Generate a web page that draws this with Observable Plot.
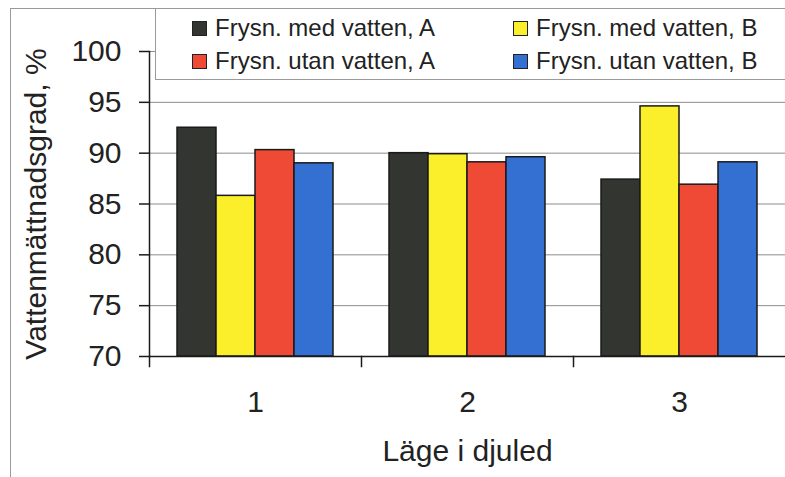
<!DOCTYPE html>
<html>
<head>
<meta charset="utf-8">
<script src="https://cdn.jsdelivr.net/npm/d3@7"></script>
<script src="https://cdn.jsdelivr.net/npm/@observablehq/plot@0.6"></script>
<style>
  html, body { margin: 0; padding: 0; background: #fff; }
  #wrap { position: relative; width: 785px; height: 477px; overflow: hidden; font-family: "Liberation Sans", Arial, sans-serif; }
  #border { position: absolute; left: 10px; top: 8px; width: 800px; height: 500px; border-left: 1px solid #9a9a9a; border-top: 1px solid #9a9a9a; pointer-events: none; }
  #legend { position: absolute; left: 155px; top: 8px; width: 660px; height: 72px; background: #fff; border: 1px solid #9a9a9a; box-sizing: border-box; }
  .item { position: absolute; display: flex; align-items: center; font-size: 24px; color: #222; white-space: nowrap; }
  .sw { width: 13px; height: 13px; border: 1.5px solid #222; margin-right: 8px; }
</style>
</head>
<body>
<div id="wrap">
  <div id="chart"></div>
  <div id="border"></div>
  <div id="legend"></div>
</div>
<script>
const categories = ["1", "2", "3"];
const series = ["Frysn. med vatten, A", "Frysn. med vatten, B", "Frysn. utan vatten, A", "Frysn. utan vatten, B"];
const colors = ["#333530", "#fbef2c", "#ee4a36", "#3470d2"];
const medVattenA = [92.5, 90.0, 87.4];
const medVattenB = [85.8, 89.9, 94.6];
const utanVattenA = [90.3, 89.1, 86.9];
const utanVattenB = [89.0, 89.6, 89.1];
const yTicks = [70, 75, 80, 85, 90, 95, 100];
const xTitle = "Läge i djuled";
const yTitle = "Vattenmättnadsgrad, %";

const valuesBySeries = [medVattenA, medVattenB, utanVattenA, utanVattenB];
const data = [];
categories.forEach((c, i) => {
  series.forEach((s, j) => data.push({cat: c, series: s, value: valuesBySeries[j][i]}));
});

const H = 477, mTop = 51, mBottom = 121;
const frameH = H - mTop - mBottom;

const chart = Plot.plot({
  width: 785,
  height: H,
  marginLeft: 148,
  marginRight: 0,
  marginTop: mTop,
  marginBottom: mBottom,
  style: {fontFamily: "'Liberation Sans', Arial, sans-serif", color: "#222", background: "transparent"},
  fx: {domain: categories, padding: 0},
  x: {domain: series, paddingInner: 0, paddingOuter: 0.71, axis: null},
  y: {domain: [70, 100]},
  color: {domain: series, range: colors},
  marks: [
    Plot.gridY(yTicks, {stroke: "#8c8c8c", strokeOpacity: 1, strokeWidth: 1}),
    Plot.barY(data, {fx: "cat", x: "series", y1: 70, y2: "value", fill: "series", stroke: "#1a1a1a", strokeWidth: 1.5}),
    Plot.ruleY([70], {stroke: "#1a1a1a", strokeWidth: 1.5}),
    Plot.frame({anchor: "left", facetAnchor: "left", stroke: "#1a1a1a", strokeWidth: 1.5}),
    Plot.frame({anchor: "left", insetTop: frameH, insetBottom: -10, stroke: "#1a1a1a", strokeWidth: 1.5}),
    Plot.axisY(yTicks, {anchor: "left", tickSize: 10, tickPadding: 18, fontSize: 30, strokeWidth: 1.5, stroke: "#1a1a1a",
      label: yTitle, labelAnchor: "center", labelOffset: 125, labelArrow: "none"}),
    Plot.axisFx({anchor: "bottom", tickSize: 0, tickPadding: 34, fontSize: 30,
      label: xTitle, labelAnchor: "center", labelOffset: 104, labelArrow: "none"})
  ]
});
document.getElementById("chart").appendChild(chart);

const legend = document.getElementById("legend");
const pos = [[36, 19], [357, 19], [36, 52], [357, 52]];
series.forEach((s, i) => {
  const it = document.createElement("div");
  it.className = "item";
  it.style.left = pos[i][0] + "px";
  it.style.top = (pos[i][1] - 14) + "px";
  it.style.height = "28px";
  const sw = document.createElement("div");
  sw.className = "sw";
  sw.style.background = colors[i];
  const tx = document.createElement("span");
  tx.textContent = s;
  it.appendChild(sw);
  it.appendChild(tx);
  legend.appendChild(it);
});
</script>
</body>
</html>
